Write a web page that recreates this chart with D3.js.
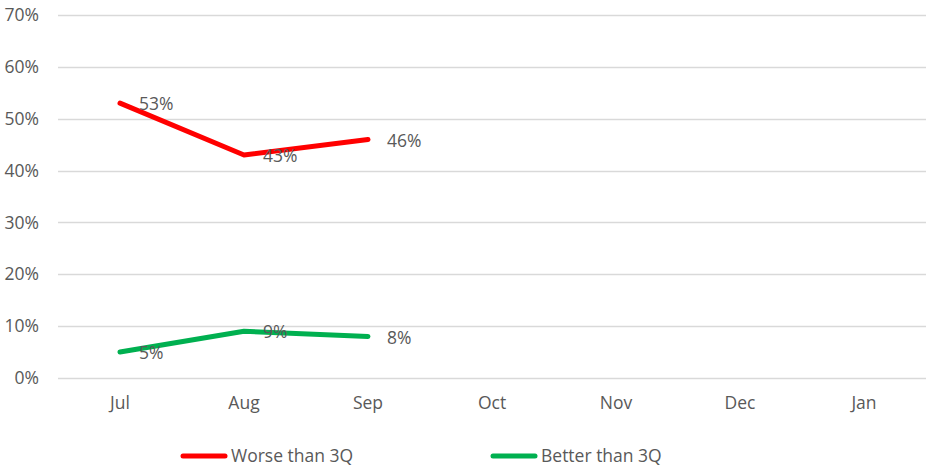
<!DOCTYPE html>
<html><head><meta charset="utf-8">
<script src="https://cdn.jsdelivr.net/npm/d3@7"></script>
<style>body{margin:0;background:#fff}svg{display:block}text{font-family:"Open Sans",sans-serif;fill:#595959}</style>
</head><body><div id="chart"></div>
<script>
const months = ["Jul","Aug","Sep","Oct","Nov","Dec","Jan"];
const worse = [0.53, 0.43, 0.46];
const better = [0.05, 0.09, 0.08];
const yTicks = [0,0.1,0.2,0.3,0.4,0.5,0.6,0.7];
const seriesNames = ["Worse than 3Q","Better than 3Q"];
const seriesColors = ["#FF0000","#00B050"];

const W=927,H=466,FS=17.5;
const svg=d3.select("#chart").append("svg").attr("width",W).attr("height",H);
const x=d3.scaleBand().domain(months).range([58,926]);
const y=d3.scaleLinear().domain([0,0.7]).range([378,15]);
const fmt=d3.format(".0%");

// grid
svg.append("g").selectAll("line").data(yTicks).join("line")
  .attr("x1",58).attr("x2",926).attr("y1",d=>Math.round(y(d))+0.5).attr("y2",d=>Math.round(y(d))+0.5)
  .attr("stroke","#D9D9D9").attr("stroke-width",1.5);

// y labels
const yAxis=d3.axisLeft(y).tickValues(yTicks).tickFormat(fmt).tickSize(0).tickPadding(0);
const gy=svg.append("g").attr("transform","translate(39,0)").call(yAxis);
gy.select(".domain").remove();
gy.selectAll("text").attr("font-size",FS).attr("fill","#595959").style("font-family","Open Sans");

// x labels
const xAxis=d3.axisBottom(x).tickSize(0).tickPadding(0);
const gx=svg.append("g").attr("transform","translate(0,397)").call(xAxis);
gx.select(".domain").remove();
gx.selectAll("text").attr("font-size",FS).attr("fill","#595959").style("font-family","Open Sans");

const cx=d=>x(d)+x.bandwidth()/2;
const line=d3.line().x((d,i)=>cx(months[i])).y(d=>y(d));
[worse,better].forEach((s,k)=>{
  svg.append("path").datum(s).attr("d",line).attr("fill","none")
    .attr("stroke",seriesColors[k]).attr("stroke-width",5)
    .attr("stroke-linecap","round").attr("stroke-linejoin","round");
  svg.append("g").selectAll("text").data(s).join("text")
    .attr("x",(d,i)=>cx(months[i])+19).attr("y",d=>y(d)+1)
    .attr("dy","0.35em").attr("font-size",FS).text(d=>fmt(d));
});

// legend
const legX=[181,491];
seriesNames.forEach((n,k)=>{
  svg.append("line").attr("x1",legX[k]+2).attr("x2",legX[k]+44).attr("y1",456).attr("y2",456)
    .attr("stroke",seriesColors[k]).attr("stroke-width",5).attr("stroke-linecap","round");
  svg.append("text").attr("x",legX[k]+50).attr("y",456).attr("dy","0.35em").attr("font-size",FS).text(n);
});
</script></body></html>
